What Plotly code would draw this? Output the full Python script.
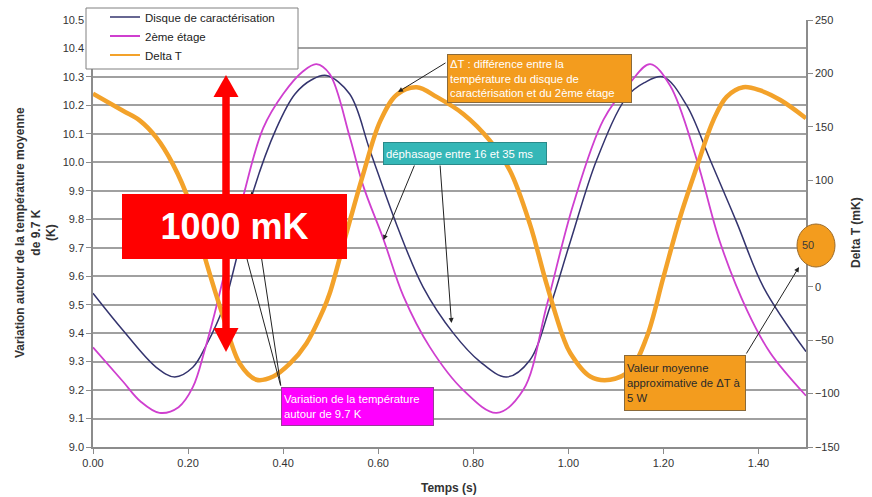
import plotly.graph_objects as go

# ---------------- data ----------------
t_disque = [0.000, 0.063, 0.133, 0.172, 0.210, 0.239, 0.274, 0.300, 0.332, 0.386,
            0.425, 0.460, 0.491, 0.540, 0.583, 0.639, 0.695, 0.758, 0.814, 0.870,
            0.919, 0.961, 1.004, 1.060, 1.123, 1.160, 1.200, 1.249, 1.298, 1.354,
            1.411, 1.500]
v_disque = [9.54, 9.41, 9.28, 9.246, 9.28, 9.36, 9.49, 9.65, 9.87, 10.12,
            10.24, 10.29, 10.305, 10.24, 10.04, 9.78, 9.56, 9.40, 9.30, 9.246,
            9.305, 9.49, 9.72, 10.01, 10.23, 10.28, 10.30, 10.20, 10.01, 9.79,
            9.56, 9.335]

t_etage = [0.000, 0.063, 0.100, 0.140, 0.180, 0.210, 0.235, 0.256, 0.278, 0.316,
           0.358, 0.400, 0.442, 0.470, 0.498, 0.540, 0.568, 0.611, 0.653, 0.709,
           0.779, 0.849, 0.905, 0.955, 1.010, 1.074, 1.130, 1.172, 1.214, 1.270,
           1.319, 1.376, 1.425, 1.500]
v_etage = [9.35, 9.23, 9.16, 9.12, 9.14, 9.21, 9.34, 9.47, 9.62, 9.88,
           10.12, 10.24, 10.32, 10.345, 10.31, 10.09, 9.92, 9.73, 9.53, 9.35,
           9.20, 9.12, 9.20, 9.50, 9.85, 10.15, 10.28, 10.345, 10.27, 10.01,
           9.72, 9.48, 9.33, 9.18]

t_delta = [0.000, 0.063, 0.098, 0.133, 0.168, 0.204, 0.239, 0.274, 0.309, 0.344,
           0.379, 0.414, 0.449, 0.484, 0.498, 0.533, 0.568, 0.604, 0.639, 0.681,
           0.723, 0.779, 0.835, 0.877, 0.919, 0.954, 0.989, 1.004, 1.046, 1.088,
           1.130, 1.165, 1.200, 1.235, 1.270, 1.305, 1.333, 1.368, 1.404, 1.446,
           1.500]
v_delta = [181, 165, 156, 140, 115, 78, 22, -28, -72, -87,
           -84, -72, -53, -22, -6, 50, 105, 155, 180, 187,
           178, 162, 137, 109, 59, 3, -47, -62, -84, -87,
           -78, -47, 9, 65, 112, 156, 178, 187, 184, 175,
           158]

series_names = ["Disque de caractérisation", "2ème étage", "Delta T"]
x_ticks = [0.0, 0.2, 0.4, 0.6, 0.8, 1.0, 1.2, 1.4]

# ---------------- styling / layout helpers ----------------
FONT = "Arial, Liberation Sans, sans-serif"
C_NAVY = "#34346e"
C_MAG = "#cf3fcf"
C_ORANGE = "#f3a22a"
W, H = 872, 497
PL, PR, PT, PB = 93, 806, 20, 447   # plot area in pixels


def px(x):
    return x / W


def py(y):
    return (H - y) / H


fig = go.Figure()
fig.add_trace(go.Scatter(x=t_disque, y=v_disque, name=series_names[0], mode="lines",
                         line=dict(color=C_NAVY, width=1.5, shape="spline", smoothing=1.0)))
fig.add_trace(go.Scatter(x=t_etage, y=v_etage, name=series_names[1], mode="lines",
                         line=dict(color=C_MAG, width=1.8, shape="spline", smoothing=1.0)))
fig.add_trace(go.Scatter(x=t_delta, y=v_delta, name=series_names[2], mode="lines",
                         yaxis="y2", showlegend=False, legendgroup="dt",
                         line=dict(color=C_ORANGE, width=4.5, shape="spline", smoothing=1.0)))
# legend-only entry with a thin orange sample
fig.add_trace(go.Scatter(x=[None], y=[None], name=series_names[2], mode="lines",
                         yaxis="y2", legendgroup="dt",
                         line=dict(color=C_ORANGE, width=2)))

# ---------------- shapes: legend frame, red double arrow, ellipse ----------------
shapes = []
shapes.append(dict(type="rect", xref="paper", yref="paper", layer="above",
                   x0=px(86), x1=px(298), y0=py(69), y1=py(8),
                   fillcolor="white", line=dict(color="#808080", width=1)))
ax_c = 226
shapes.append(dict(type="line", xref="paper", yref="paper",
                   x0=px(ax_c), x1=px(ax_c), y0=py(94), y1=py(331),
                   line=dict(color="#ff0000", width=7.5), layer="above"))
shapes.append(dict(type="path", xref="paper", yref="paper", layer="above",
                   path=f"M {px(ax_c)} {py(75)} L {px(213.5)} {py(97)} L {px(238.5)} {py(97)} Z",
                   fillcolor="#ff0000", line=dict(color="#ff0000", width=0)))
shapes.append(dict(type="path", xref="paper", yref="paper", layer="above",
                   path=f"M {px(ax_c)} {py(352)} L {px(213.5)} {py(328)} L {px(238.5)} {py(328)} Z",
                   fillcolor="#ff0000", line=dict(color="#ff0000", width=0)))
shapes.append(dict(type="circle", xref="paper", yref="paper", layer="above",
                   x0=px(797), x1=px(835), y0=py(224), y1=py(267),
                   fillcolor="#f39c1e", line=dict(color="#9a6a2a", width=1)))

# ---------------- annotations ----------------
ann = []


def arrow(tip, tail):
    ann.append(dict(xref="paper", yref="paper", x=px(tip[0]), y=py(tip[1]),
                    ax=tail[0] - tip[0], ay=tail[1] - tip[1], text="",
                    showarrow=True, arrowhead=2, arrowsize=1, arrowwidth=1,
                    arrowcolor="#222222", standoff=0, startstandoff=0))


def box(x0, y0, w, h, text, bg, border, color, size=11.3, align="left"):
    ann.append(dict(xref="paper", yref="paper", x=px(x0), y=py(y0),
                    xanchor="left", yanchor="top", text=text, showarrow=False,
                    width=w - 6, height=h - 6, borderpad=2, borderwidth=1,
                    bgcolor=bg, bordercolor=border, align=align, valign="middle",
                    font=dict(family=FONT, size=size, color=color)))


# arrows from the magenta box (go behind the red label)
arrow((238, 225), (281, 387))
arrow((251.5, 191.5), (281, 387))
arrow((398, 92), (447, 62))
arrow((383.5, 240), (415, 164))
arrow((451.5, 323), (440, 164))
arrow((799, 267), (745.5, 355))

box(446.7, 54, 185, 49,
    "ΔT : différence entre la<br>température du disque de<br>caractérisation et du 2ème étage",
    "#f39c1e", "#8a6a3a", "white")
box(383.3, 141.7, 164, 23, "déphasage entre 16 et 35 ms", "#35b7b7", "#2a8a8a", "white")
box(280.7, 386.7, 153, 39, "Variation de la température<br>autour de 9.7 K",
    "#ff00ff", "#9a3a9a", "white")
box(624, 355, 122, 56, "Valeur moyenne<br>approximative de ΔT à<br>5 W",
    "#f39c1e", "#8a6a3a", "#2a2a2a")

ann.append(dict(xref="paper", yref="paper", x=px(816), y=py(245.5), text="50",
                showarrow=False, font=dict(family=FONT, size=11, color="#3a3a3a")))

# red "1000 mK" label (on top)
ann.append(dict(xref="paper", yref="paper", x=px(122), y=py(194),
                xanchor="left", yanchor="top", text="<b>1000 mK</b>", showarrow=False,
                width=221, height=61, borderpad=2, borderwidth=0,
                bgcolor="#ff0000", align="center", valign="middle",
                font=dict(family=FONT, size=36, color="white")))

# axis titles
ann.append(dict(xref="paper", yref="paper", x=px(36), y=py(233), xanchor="center",
                yanchor="middle", textangle=-90, showarrow=False,
                text="<b>Variation autour de la température moyenne<br>de 9.7 K<br>(K)</b>",
                font=dict(family=FONT, size=12, color="#333333")))
ann.append(dict(xref="paper", yref="paper", x=px(856), y=py(233), xanchor="center",
                yanchor="middle", textangle=-90, showarrow=False,
                text="<b>Delta T (mK)</b>",
                font=dict(family=FONT, size=12, color="#333333")))
ann.append(dict(xref="paper", yref="paper", x=px(449), y=py(488), xanchor="center",
                yanchor="middle", showarrow=False, text="<b>Temps (s)</b>",
                font=dict(family=FONT, size=12, color="#333333")))

fig.update_layout(
    width=W, height=H,
    margin=dict(l=0, r=0, t=0, b=0, autoexpand=False),
    paper_bgcolor="white", plot_bgcolor="white",
    font=dict(family=FONT, size=11, color="#333333"),
    shapes=shapes, annotations=ann,
    showlegend=True,
    legend=dict(x=px(86), y=py(2.5), xanchor="left", yanchor="top",
                bgcolor="rgba(0,0,0,0)", borderwidth=0,
                font=dict(family=FONT, size=11.5, color="#222222"),
                indentation=19, tracegroupgap=0, traceorder="normal"),
    xaxis=dict(domain=[px(PL), px(PR)], range=[0, 1.5], tickvals=x_ticks, tickformat=".2f",
               showgrid=False, zeroline=False, showline=True,
               linecolor="#8c8c8c", linewidth=1.5, ticks="outside", ticklen=5,
               tickcolor="#8c8c8c", tickfont=dict(size=11, color="#333333")),
    yaxis=dict(domain=[py(PB), py(PT)], range=[9.0, 10.5], dtick=0.1, tick0=9.0,
               tickformat=".1f",
               showgrid=True, gridcolor="#a0a0a0", gridwidth=1.5, zeroline=False,
               showline=True, linecolor="#8c8c8c", linewidth=1.5,
               ticks="outside", ticklen=5, tickcolor="#8c8c8c",
               tickfont=dict(size=11, color="#333333")),
    yaxis2=dict(range=[-150, 250], dtick=50, tick0=-150, overlaying="y", side="right",
                showgrid=False, zeroline=False, showline=True,
                linecolor="#8c8c8c", linewidth=1.5, ticks="outside", ticklen=5,
                tickcolor="#8c8c8c", tickfont=dict(size=11, color="#333333")),
)

fig.write_html("out.html",
               config={"displayModeBar": False},
               post_script="document.body.style.margin='0px';"
                           "document.body.style.overflow='hidden';")
